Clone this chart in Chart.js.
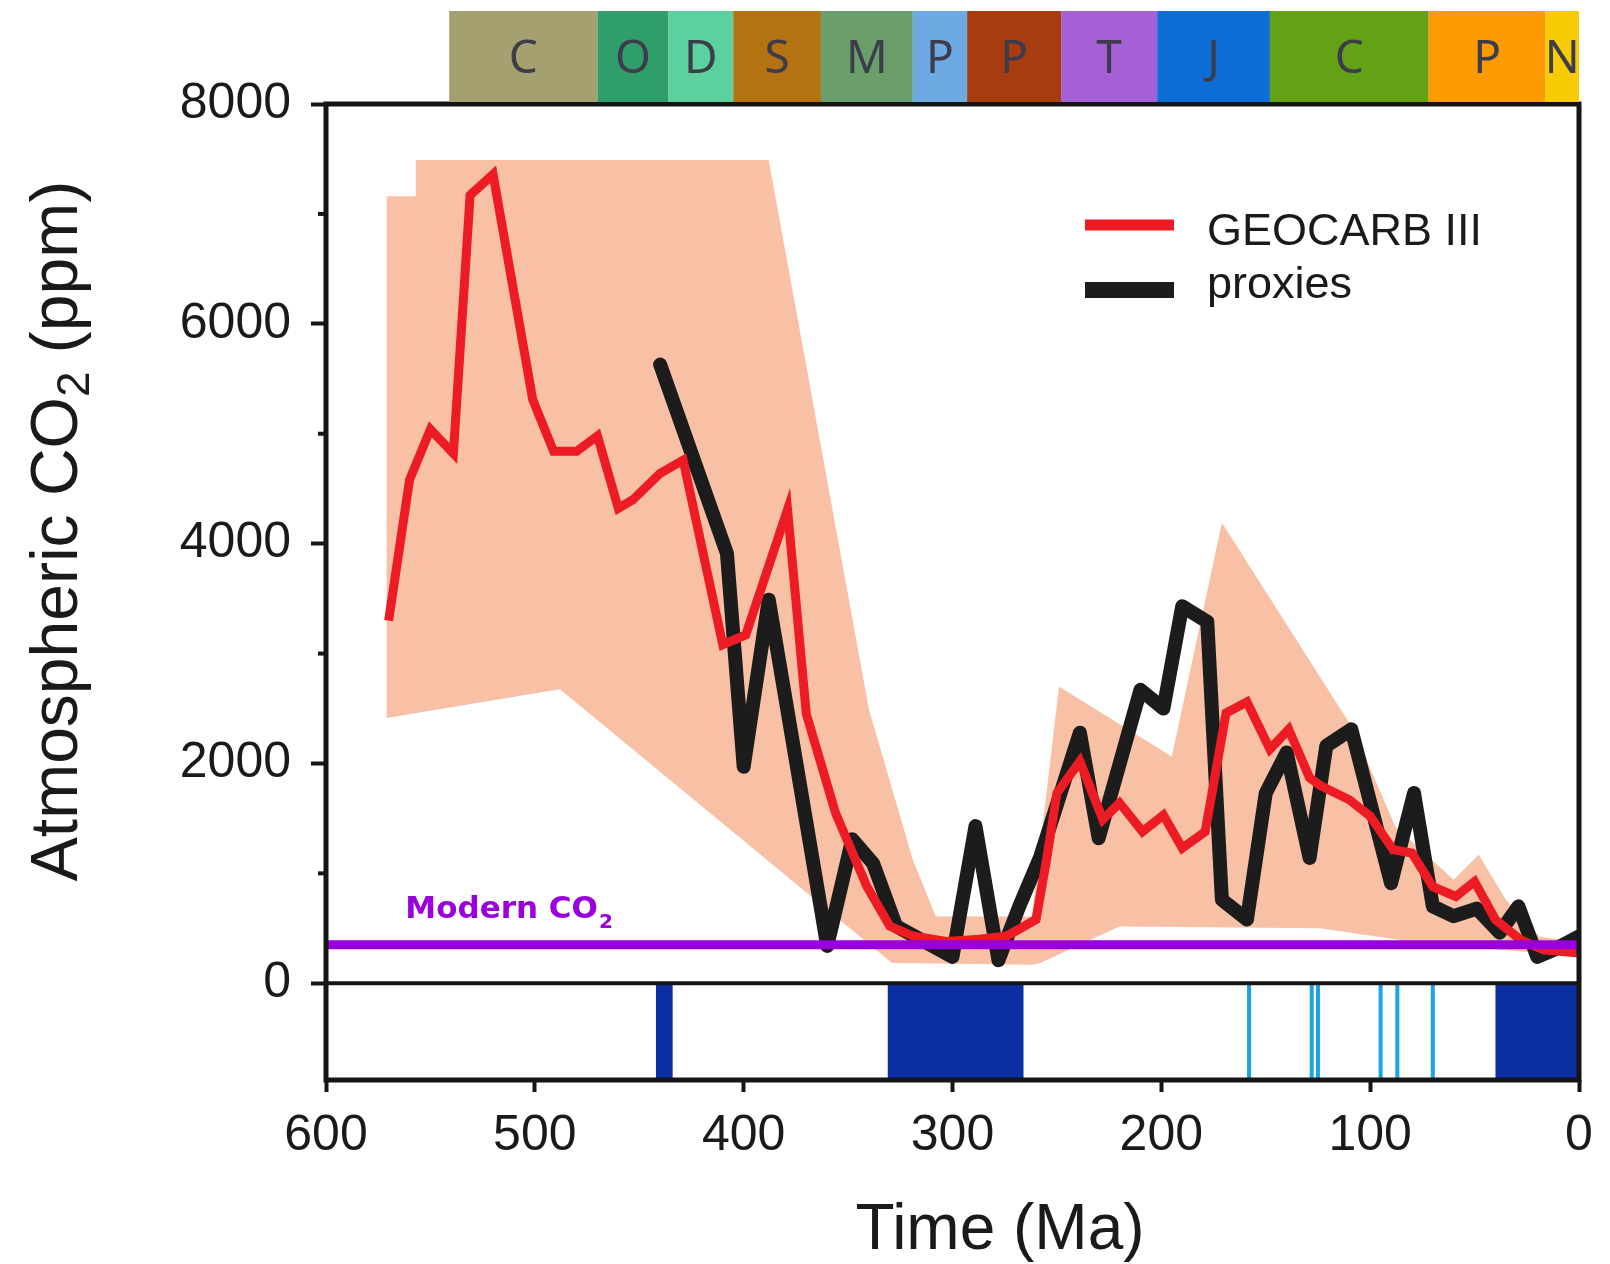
<!DOCTYPE html>
<html>
<head>
<meta charset="utf-8">
<script src="https://cdn.jsdelivr.net/npm/chart.js@4.4.1/dist/chart.umd.min.js"></script>
<style>
  html, body { margin: 0; padding: 0; background: #fff; }
  #wrap { width: 1610px; height: 1264px; }
</style>
</head>
<body>
<div id="wrap"><canvas id="co2Chart" width="1610" height="1264"></canvas></div>
<script>
// ===== data =====
// GEOCARB III model (red)
const geocarbAge = [570, 560, 550, 539, 531, 520, 501, 491, 480, 470, 460, 453, 440, 429, 410, 399, 379, 370, 356, 341, 330, 319, 303, 287, 274, 260, 255, 250, 239, 228, 220, 209, 199, 190, 179, 169, 159, 148, 139, 129, 124, 110, 100, 89, 80, 70, 59, 50, 40, 28, 17, 0];
const geocarbCO2 = [3300, 4580, 5040, 4820, 7170, 7360, 5310, 4840, 4840, 4980, 4320, 4400, 4640, 4760, 3080, 3170, 4310, 2450, 1550, 880, 520, 430, 380, 400, 430, 580, 1120, 1730, 2020, 1490, 1640, 1380, 1530, 1230, 1380, 2460, 2560, 2130, 2310, 1870, 1800, 1670, 1520, 1215, 1185, 880, 790, 926, 578, 396, 305, 275];

// proxies (black)
const proxyAge = [440, 408, 400, 388, 360, 348, 338, 327, 300, 289, 278, 268, 258, 239, 230, 210, 199, 190, 178, 171, 159, 150, 140, 129, 121, 109, 90, 79, 70, 60, 49, 38, 29, 20, 12, 0];
const proxyCO2 = [5630, 3910, 1970, 3490, 340, 1310, 1090, 520, 240, 1430, 210, 700, 1150, 2280, 1320, 2670, 2500, 3430, 3290, 760, 580, 1730, 2100, 1140, 2160, 2310, 910, 1730, 700, 610, 680, 460, 700, 240, 305, 426];

// GEOCARB uncertainty band
const bandUpperAge = [571, 557, 557, 388, 340, 319, 308, 262, 249, 195, 171, 108, 88, 60, 48, 35, 19, 0];
const bandUpperCO2 = [7160, 7160, 7490, 7490, 2490, 1124, 608, 608, 2700, 2064, 4190, 2310, 1427, 942, 1169, 760, 426, 370];
const bandLowerAge = [571, 488, 329, 262, 258, 220, 124, 76, 0];
const bandLowerCO2 = [2413, 2675, 184, 168, 184, 517, 500, 366, 244];

const modernCO2 = 350;

// geological periods along the top
const periodNames = ["C", "O", "D", "S", "M", "P", "P", "T", "J", "C", "P", "N"];
const periodBounds = [541, 470, 436, 405, 363, 319, 293, 248, 202, 148, 72, 16, 0];
const periodColors = ["#a4a06f", "#2f9e6b", "#5dd09f", "#b57212", "#6a9f6c", "#6da9e3", "#a63c0f", "#a560d6", "#0d6fd6", "#63a214", "#fc9b01", "#f8cb05"];

// glaciations (bottom strip)
const glacialStart = [442, 331, 40];
const glacialEnd = [434, 266, 0];
const coldSnaps = [158, 128, 125, 95, 87, 70];

const xTicks = [600, 500, 400, 300, 200, 100, 0];
const yTicks = [0, 2000, 4000, 6000, 8000];
const yMinorTicks = [1000, 3000, 5000, 7000];
const Y_MIN = -880, Y_MAX = 8000;

// ===== build datasets =====
const pts = (xs, ys) => xs.map((x, i) => ({ x, y: ys[i] }));
const bandShape = pts(bandUpperAge, bandUpperCO2).concat(pts(bandLowerAge, bandLowerCO2).reverse());

const datasets = [
  { label: "Modern", data: [{ x: 600, y: modernCO2 }, { x: 0, y: modernCO2 }],
    borderColor: "#9a00dc", borderWidth: 9, borderCapStyle: "butt", order: 0 },
  { label: "GEOCARB III", data: pts(geocarbAge, geocarbCO2),
    borderColor: "#ed1c24", borderWidth: 9, borderJoinStyle: "miter", order: 1 },
  { label: "proxies", data: pts(proxyAge, proxyCO2),
    borderColor: "#1c1c1c", borderWidth: 14, borderJoinStyle: "round", borderCapStyle: "round", order: 2 },
  { label: "band", data: bandShape, borderWidth: 0, borderColor: "rgba(0,0,0,0)",
    backgroundColor: "#f8c1a6", fill: "shape", order: 5 }
];
glacialStart.forEach((s, i) => {
  const e = glacialEnd[i];
  datasets.push({ label: "glacial", data: [{ x: s, y: Y_MIN }, { x: s, y: 0 }, { x: e, y: 0 }, { x: e, y: Y_MIN }],
    borderWidth: 0, borderColor: "rgba(0,0,0,0)", backgroundColor: "#0b30a4", fill: "shape", order: 6 });
});
coldSnaps.forEach(v => {
  datasets.push({ label: "cold", data: [{ x: v, y: Y_MIN }, { x: v, y: 0 }],
    borderColor: "#1ba3e6", borderWidth: 4, borderCapStyle: "butt", order: 6 });
});

// ===== decorations: frame, period bar, titles, legend =====
const FONT = "'Liberation Sans', Arial, sans-serif";
const decor = {
  id: "decor",
  afterDatasetsDraw(chart) {
    const { ctx, chartArea: a, scales: { x, y } } = chart;
    ctx.save();
    // zero line
    const y0 = y.getPixelForValue(0);
    ctx.strokeStyle = "#151515";
    ctx.lineWidth = 4;
    ctx.beginPath(); ctx.moveTo(a.left, y0); ctx.lineTo(a.right, y0); ctx.stroke();
    // frame
    ctx.lineWidth = 5;
    ctx.strokeRect(a.left, a.top, a.right - a.left, a.bottom - a.top);
    // minor y ticks
    ctx.lineWidth = 4;
    yMinorTicks.forEach(v => {
      const py = y.getPixelForValue(v);
      ctx.beginPath(); ctx.moveTo(a.left - 8, py); ctx.lineTo(a.left, py); ctx.stroke();
    });
    // Modern CO2 label
    ctx.fillStyle = "#9a00dc";
    ctx.textBaseline = "alphabetic";
    ctx.textAlign = "left";
    ctx.font = "bold 31px 'DejaVu Sans', Verdana, sans-serif";
    const lx = x.getPixelForValue(562), ly = 918;
    ctx.fillText("Modern CO", lx, ly);
    const w = ctx.measureText("Modern CO").width;
    ctx.font = "bold 20px 'DejaVu Sans', Verdana, sans-serif";
    ctx.fillText("2", lx + w + 1, ly + 10);
    ctx.restore();
  },
  afterDraw(chart) {
    const { ctx, chartArea: a, scales: { x } } = chart;
    ctx.save();
    // period bar
    ctx.textAlign = "center";
    ctx.textBaseline = "middle";
    ctx.font = "46px 'Noto Sans', 'Open Sans', sans-serif";
    for (let i = 0; i < periodNames.length; i++) {
      const x0 = x.getPixelForValue(periodBounds[i]);
      const x1 = x.getPixelForValue(periodBounds[i + 1]);
      ctx.fillStyle = periodColors[i];
      ctx.fillRect(x0, 11, x1 - x0, a.top - 13);
      ctx.fillStyle = "#3c3c4a";
      ctx.fillText(periodNames[i], (x0 + x1) / 2, 60);
    }
    // legend
    const items = [[chart.data.datasets[1], 225, 245, 11], [chart.data.datasets[2], 290, 298, 16]];
    ctx.textAlign = "left";
    ctx.textBaseline = "alphabetic";
    ctx.font = "45px " + FONT;
    items.forEach(([ds, lineY, textY, lw]) => {
      ctx.strokeStyle = ds.borderColor;
      ctx.lineWidth = lw;
      ctx.lineCap = "butt";
      ctx.beginPath(); ctx.moveTo(1085, lineY); ctx.lineTo(1174, lineY); ctx.stroke();
      ctx.fillStyle = "#1a1a1a";
      ctx.fillText(ds.label, 1207, textY);
    });
    // axis titles
    ctx.fillStyle = "#1a1a1a";
    ctx.font = "64px " + FONT;
    ctx.textAlign = "center";
    ctx.fillText("Time (Ma)", 1000, 1249);

    ctx.translate(77, 531);
    ctx.rotate(-Math.PI / 2);
    ctx.textAlign = "left";
    const big = "66px " + FONT, small = "46px " + FONT;
    ctx.font = big;
    const p1 = "Atmospheric CO", p3 = " (ppm)";
    const w1 = ctx.measureText(p1).width, w3 = ctx.measureText(p3).width;
    ctx.font = small;
    const w2 = ctx.measureText("2").width;
    let sx = -(w1 + w2 + w3) / 2;
    ctx.font = big; ctx.fillText(p1, sx, 0); sx += w1;
    ctx.font = small; ctx.fillText("2", sx, 12); sx += w2;
    ctx.font = big; ctx.fillText(p3, sx, 0);
    ctx.restore();
  }
};

new Chart(document.getElementById("co2Chart"), {
  type: "scatter",
  data: { datasets },
  options: {
    responsive: false,
    animation: false,
    events: [],
    showLine: true,
    layout: { padding: { top: 104, right: 31, left: 0, bottom: 0 } },
    elements: { point: { radius: 0, hoverRadius: 0 }, line: { tension: 0 } },
    plugins: { legend: { display: false }, tooltip: { enabled: false } },
    scales: {
      x: {
        type: "linear", reverse: true, min: 0, max: 600, position: "bottom",
        afterBuildTicks: s => { s.ticks = xTicks.map(v => ({ value: v })); },
        afterFit: s => { s.height = 184; },
        border: { display: false },
        grid: { drawOnChartArea: false, drawTicks: true, tickLength: 12, tickWidth: 4, tickColor: "#151515" },
        ticks: { color: "#1a1a1a", font: { size: 50, family: FONT }, padding: 14, maxRotation: 0, autoSkip: false,
                 callback: v => String(v) }
      },
      y: {
        type: "linear", min: Y_MIN, max: Y_MAX,
        afterBuildTicks: s => { s.ticks = yTicks.map(v => ({ value: v })); },
        afterFit: s => { s.width = 326; },
        border: { display: false },
        grid: { drawOnChartArea: false, drawTicks: true, tickLength: 15, tickWidth: 4, tickColor: "#151515" },
        ticks: { color: "#1a1a1a", font: { size: 50, family: FONT }, padding: 20, callback: v => String(v) }
      }
    }
  },
  plugins: [decor]
});
</script>
</body>
</html>
